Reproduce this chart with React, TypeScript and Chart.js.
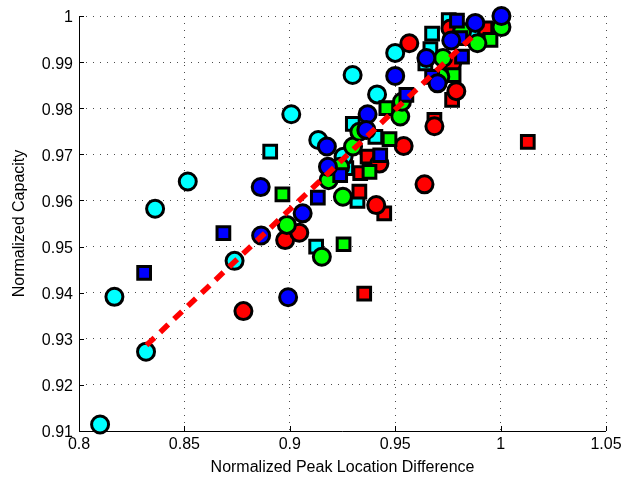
import React, { useEffect, useRef } from "react";
import { Chart, registerables } from "chart.js";

Chart.register(...registerables);

// ---- Axis ticks ----
const xTicks = [0.8, 0.85, 0.9, 0.95, 1, 1.05];
const xTickLabels = ["0.8", "0.85", "0.9", "0.95", "1", "1.05"];
const yTicks = [0.91, 0.92, 0.93, 0.94, 0.95, 0.96, 0.97, 0.98, 0.99, 1];
const yTickLabels = ["0.91", "0.92", "0.93", "0.94", "0.95", "0.96", "0.97", "0.98", "0.99", "1"];

const xTitle = "Normalized Peak Location Difference";
const yTitle = "Normalized Capacity";

// ---- Series (x = peak location difference, y = capacity) ----
const cyanCircleX = [0.81, 0.8168, 0.8318, 0.8361, 0.8516, 0.8738, 0.9007, 0.9135, 0.9255, 0.9298, 0.9414, 0.95, 0.9857];
const cyanCircleY = [0.9114, 0.9391, 0.9272, 0.9582, 0.9641, 0.9469, 0.9787, 0.9731, 0.9695, 0.9872, 0.983, 0.992, 0.9966];

const cyanSquareX = [0.8907, 0.9125, 0.9299, 0.9406, 0.9268, 0.9321, 0.9754, 0.9675, 0.9667, 0.9643];
const cyanSquareY = [0.9706, 0.95, 0.9766, 0.9738, 0.967, 0.9599, 0.9991, 0.9962, 0.9928, 0.9897];

const blueCircleX = [0.8862, 0.8864, 0.8992, 0.9061, 0.9176, 0.9181, 0.9369, 0.9363, 0.95, 0.9648, 0.9766, 0.9701, 0.988, 1.0004];
const blueCircleY = [0.9629, 0.9524, 0.939, 0.9572, 0.9717, 0.9673, 0.9787, 0.9753, 0.987, 0.9909, 0.9947, 0.9854, 0.9985, 1.0];

const blueSquareX = [0.8309, 0.8685, 0.9133, 0.9239, 0.9429, 0.9553, 0.9793, 0.9817, 0.9675, 0.9809];
const blueSquareY = [0.9443, 0.9529, 0.9606, 0.9655, 0.9698, 0.9829, 0.999, 0.9912, 0.9868, 0.9952];

const greenCircleX = [0.8986, 0.9152, 0.9184, 0.9252, 0.9239, 0.93, 0.933, 0.9524, 0.9532, 0.9727, 0.9714, 0.989, 1.0004, 0.9817];
const greenCircleY = [0.9547, 0.9478, 0.9644, 0.9608, 0.9673, 0.9717, 0.9749, 0.9782, 0.9814, 0.9909, 0.9868, 0.9941, 0.9976, 0.9966];

const greenSquareX = [0.8965, 0.9255, 0.9378, 0.9458, 0.9473, 0.9777, 0.9952];
const greenSquareY = [0.9613, 0.9505, 0.9662, 0.98, 0.9733, 0.9872, 0.9948];

const redCircleX = [0.878, 0.8978, 0.9045, 0.941, 0.9425, 0.954, 0.9567, 0.9639, 0.9686, 0.9762, 0.977, 0.979];
const redCircleY = [0.936, 0.9514, 0.953, 0.959, 0.968, 0.9718, 0.9941, 0.9635, 0.9761, 0.9973, 0.9897, 0.9837];

const redSquareX = [0.9353, 0.9448, 0.933, 0.9334, 0.9369, 0.9686, 0.977, 0.9928, 1.0129];
const redSquareY = [0.9398, 0.9572, 0.9619, 0.9659, 0.9695, 0.9775, 0.9818, 0.9973, 0.9727];

const fitLineX = [0.832, 0.987];
const fitLineY = [0.9286, 0.9957];

const toPts = (xs: number[], ys: number[]) => xs.map((x, i) => ({ x, y: ys[i] }));

const FONT = "'Liberation Sans', Arial, Helvetica, sans-serif";

const axesPlugin = {
  id: "matlabAxes",
  beforeDatasetsDraw(chart: any) {
    const { ctx, chartArea: a, scales } = chart;
    ctx.save();
    ctx.strokeStyle = "#000";
    ctx.lineWidth = 1;
    ctx.beginPath();
    ctx.moveTo(a.left + 0.5, a.top);
    ctx.lineTo(a.left + 0.5, a.bottom + 0.5);
    ctx.lineTo(a.right, a.bottom + 0.5);
    xTicks.forEach((v) => {
      const x = Math.round(scales.x.getPixelForValue(v)) + 0.5;
      ctx.moveTo(x, a.bottom);
      ctx.lineTo(x, a.bottom - 5);
    });
    yTicks.forEach((v) => {
      const y = Math.round(scales.y.getPixelForValue(v)) + 0.5;
      ctx.moveTo(a.left, y);
      ctx.lineTo(a.left + 5, y);
    });
    ctx.stroke();
    ctx.restore();
  },
};

function markerSet(data: any[], color: string, style: string, order: number) {
  const isRect = style === "rect";
  return {
    data,
    showLine: false,
    pointStyle: style,
    pointRadius: isRect ? 9 : 8.5,
    pointHoverRadius: isRect ? 9 : 8.5,
    pointBackgroundColor: color,
    pointBorderColor: "#000",
    pointBorderWidth: 3,
    backgroundColor: color,
    borderColor: "#000",
    clip: false,
    order,
  };
}

export default function App() {
  const ref = useRef<HTMLCanvasElement | null>(null);

  useEffect(() => {
    if (!ref.current) return;
    const chart = new Chart(ref.current, {
      type: "scatter",
      data: {
        datasets: [
          {
            data: toPts(fitLineX, fitLineY),
            showLine: true,
            borderColor: "#ff0000",
            borderWidth: 5.5,
            borderDash: [11, 8],
            borderCapStyle: "butt",
            pointRadius: 0,
            pointHoverRadius: 0,
            clip: false,
            order: 0,
          } as any,
          markerSet(toPts(blueCircleX, blueCircleY), "#0000ff", "circle", 1),
          markerSet(toPts(blueSquareX, blueSquareY), "#0000ff", "rect", 2),
          markerSet(toPts(greenCircleX, greenCircleY), "#00ff00", "circle", 3),
          markerSet(toPts(greenSquareX, greenSquareY), "#00ff00", "rect", 4),
          markerSet(toPts(redCircleX, redCircleY), "#ff0000", "circle", 5),
          markerSet(toPts(redSquareX, redSquareY), "#ff0000", "rect", 6),
          markerSet(toPts(cyanCircleX, cyanCircleY), "#00ffff", "circle", 7),
          markerSet(toPts(cyanSquareX, cyanSquareY), "#00ffff", "rect", 8),
        ],
      },
      options: {
        animation: false,
        responsive: false,
        maintainAspectRatio: false,
        events: [],
        layout: { padding: { top: 16, right: 29, left: 0, bottom: 0 } },
        plugins: {
          legend: { display: false },
          tooltip: { enabled: false },
        },
        scales: {
          x: {
            type: "linear",
            min: 0.8,
            max: 1.05,
            afterFit: (s: any) => {
              s.height = 48;
            },
            afterBuildTicks: (s: any) => {
              s.ticks = xTicks.map((v) => ({ value: v }));
            },
            ticks: {
              color: "#000",
              padding: 4,
              maxRotation: 0,
              autoSkip: false,
              font: { family: FONT, size: 16 },
              callback: (v: any) => {
                const i = xTicks.findIndex((t) => Math.abs(t - Number(v)) < 1e-6);
                return i >= 0 ? xTickLabels[i] : "";
              },
            },
            grid: {
              color: "rgba(0,0,0,0.7)",
              lineWidth: 1,
              drawTicks: false,
            },
            border: { display: false, dash: [1, 6] },
            title: {
              display: true,
              text: xTitle,
              color: "#000",
              font: { family: FONT, size: 16 },
              padding: { top: 0, bottom: 2 },
            },
          },
          y: {
            type: "linear",
            min: 0.91,
            max: 1,
            afterFit: (s: any) => {
              s.width = 79;
            },
            afterBuildTicks: (s: any) => {
              s.ticks = yTicks.map((v) => ({ value: v }));
            },
            ticks: {
              color: "#000",
              padding: 6,
              labelOffset: 2,
              autoSkip: false,
              font: { family: FONT, size: 16 },
              callback: (v: any) => {
                const i = yTicks.findIndex((t) => Math.abs(t - Number(v)) < 1e-6);
                return i >= 0 ? yTickLabels[i] : "";
              },
            },
            grid: {
              color: "rgba(0,0,0,0.7)",
              lineWidth: 1,
              drawTicks: false,
            },
            border: { display: false, dash: [1, 6] },
            title: {
              display: true,
              text: yTitle,
              color: "#000",
              font: { family: FONT, size: 16 },
              padding: { top: 10, bottom: 0 },
            },
          },
        },
      },
      plugins: [axesPlugin],
    } as any);
    return () => chart.destroy();
  }, []);

  return (
    <div style={{ position: "fixed", left: 0, top: 0, width: 635, height: 479, background: "#fff" }}>
      <canvas ref={ref} width={635} height={479} style={{ width: 635, height: 479, display: "block" }} />
    </div>
  );
}
